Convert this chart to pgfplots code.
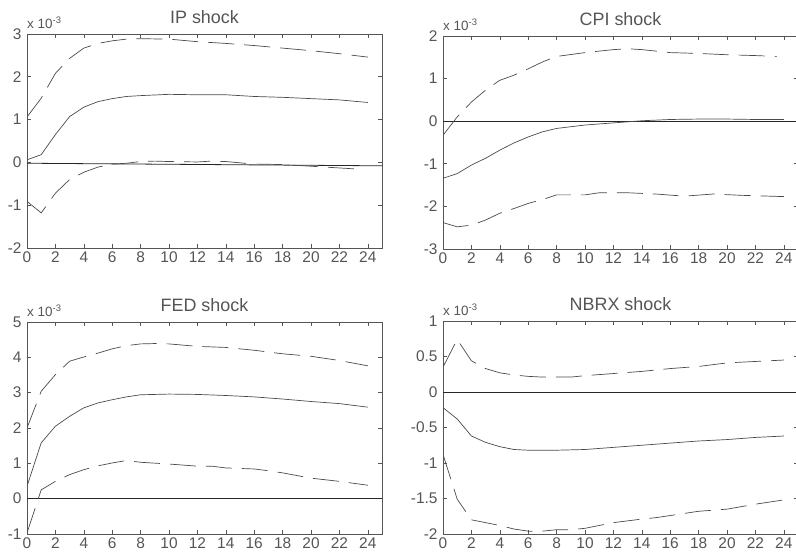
\documentclass[border=0pt]{standalone}
\usepackage{fontspec}
\setmainfont{Liberation Sans}
\usepackage{pgfplots}
\pgfplotsset{compat=1.18}

\definecolor{axgray}{HTML}{555555}
\definecolor{lngray}{HTML}{4A4A4A}

\pgfplotsset{
  irf/.style={
    scale only axis, width=355bp,
    xmin=0, xmax=25, xtick={0,2,...,24},
    clip mode=individual,
    tick align=inside, major tick length=4bp,
    axis line style={axgray, line width=0.8pt},
    tick style={axgray, line width=0.6pt},
    ticklabel style={font=\fontsize{15.5}{17}\selectfont, text=axgray},
    yticklabel style={xshift=-2bp},
    xticklabel style={yshift=-0.5bp},
    /pgf/number format/assume math mode=true,
    title style={font=\fontsize{18}{20}\selectfont, text=axgray, yshift=1bp},
    scaled y ticks=false,
  },
  mid/.style={lngray, line width=0.7pt, no marks},
  band/.style={lngray, line width=0.7pt, no marks, dash pattern=on 26bp off 10bp},
  zero/.style={black!85, line width=0.8pt, no marks},
}
\newcommand{\scalelab}{\node[anchor=south west, inner sep=0pt, text=axgray,
  font=\fontsize{13.5}{15}\selectfont] at (rel axis cs:0,1) [yshift=5bp]
  {x 10\textsuperscript{-3}};}

\begin{document}
\begin{tikzpicture}[x=1bp,y=1bp]
\useasboundingbox (0,0) rectangle (796,560);

% IP shock
\begin{axis}[irf, at={(27bp,312bp)}, height=214bp, title={IP shock},
  ymin=-2, ymax=3, ytick={-2,-1,0,1,2,3}, yticklabels={-2,-1,0,1,2,3}]
\addplot[zero] coordinates {(0,-0.02)(25,-0.08)};
\addplot[mid] coordinates {(0,0.06)(1,0.18)(2,0.65)(3,1.07)(4,1.29)(5,1.42)(6,1.49)(7,1.54)(8,1.56)(10,1.59)(12,1.58)(14,1.58)(16,1.54)(18,1.52)(20,1.49)(22,1.46)(24,1.40)};
\addplot[band] coordinates {(0,1.06)(1,1.50)(2,2.08)(3,2.43)(4,2.67)(5,2.78)(6,2.84)(7,2.88)(8,2.89)(10,2.88)(12,2.82)(14,2.78)(16,2.73)(18,2.67)(20,2.61)(22,2.54)(24,2.46)};
\addplot[band] coordinates {(0,-0.91)(1,-1.18)(2,-0.72)(3,-0.40)(4,-0.23)(5,-0.11)(6,-0.04)(7,-0.02)(8,0.02)(9,0.03)(10,0.02)(12,0.01)(13,0.03)(14,0.02)(16,-0.04)(18,-0.05)(20,-0.09)(22,-0.13)(23.5,-0.16)};
\scalelab
\end{axis}

% CPI shock
\begin{axis}[irf, at={(443bp,311bp)}, height=213bp, title={CPI shock},
  ymin=-3, ymax=2, ytick={-3,-2,-1,0,1,2}, yticklabels={-3,-2,-1,0,1,2}]
\addplot[zero] coordinates {(0,0)(25,0)};
\addplot[mid] coordinates {(0,-1.34)(1,-1.23)(2,-1.03)(3,-0.87)(4,-0.68)(5,-0.51)(6,-0.37)(7,-0.25)(8,-0.17)(10,-0.09)(12,-0.04)(14,0.01)(16,0.04)(18,0.05)(20,0.05)(22,0.04)(24,0.04)};
\addplot[band] coordinates {(0,-0.33)(1,0.10)(2,0.45)(3,0.73)(4,0.96)(5,1.08)(6,1.23)(7,1.39)(8,1.52)(10,1.61)(12,1.68)(13,1.70)(14,1.68)(16,1.61)(18,1.59)(20,1.56)(22,1.54)(23.5,1.52)};
\addplot[band] coordinates {(0,-2.38)(1,-2.48)(2,-2.44)(3,-2.32)(4,-2.16)(5,-2.05)(6,-1.93)(7,-1.84)(8,-1.73)(10,-1.73)(11,-1.68)(13,-1.68)(15,-1.71)(17,-1.76)(19,-1.71)(21,-1.74)(24,-1.77)};
\scalelab
\end{axis}

% FED shock
\begin{axis}[irf, at={(27bp,26bp)}, height=212bp, title={FED shock},
  ymin=-1, ymax=5, ytick={-1,0,1,2,3,4,5}, yticklabels={-1,0,1,2,3,4,5}]
\addplot[zero] coordinates {(0,0)(25,0)};
\addplot[mid] coordinates {(0,0.35)(1,1.58)(2,2.05)(3,2.33)(4,2.57)(5,2.71)(6,2.80)(7,2.88)(8,2.94)(10,2.96)(12,2.95)(14,2.92)(16,2.88)(18,2.82)(20,2.75)(22,2.69)(24,2.59)};
\addplot[band] coordinates {(0,2.00)(1,3.04)(2,3.51)(3,3.89)(4,4.01)(5,4.12)(6,4.24)(7,4.33)(8,4.38)(9,4.39)(10,4.38)(12,4.31)(14,4.28)(16,4.20)(18,4.10)(20,4.03)(22,3.91)(24,3.76)};
\addplot[band] coordinates {(0,-0.97)(1,0.25)(2,0.49)(3,0.68)(4,0.82)(5,0.93)(6,1.01)(7,1.08)(8,1.03)(10,0.98)(12,0.92)(13,0.92)(14,0.87)(16,0.84)(17,0.79)(18,0.73)(20,0.58)(22,0.49)(24,0.38)};
\scalelab
\end{axis}

% NBRX shock
\begin{axis}[irf, at={(443bp,26bp)}, height=213bp, title={NBRX shock},
  ymin=-2, ymax=1, ytick={-2,-1.5,-1,-0.5,0,0.5,1},
  yticklabels={-2,-1.5,-1,-0.5,0,0.5,1}]
\addplot[zero] coordinates {(0,0)(25,0)};
\addplot[mid] coordinates {(0,-0.22)(1,-0.38)(2,-0.62)(3,-0.71)(4,-0.77)(5,-0.81)(6,-0.82)(8,-0.82)(10,-0.81)(12,-0.78)(14,-0.75)(16,-0.72)(18,-0.69)(20,-0.67)(22,-0.64)(24,-0.62)};
\addplot[band] coordinates {(0,0.35)(1,0.74)(2,0.44)(3,0.33)(4,0.27)(5,0.24)(6,0.22)(7,0.21)(8,0.21)(9,0.21)(10,0.23)(12,0.26)(14,0.29)(16,0.33)(18,0.36)(20,0.41)(22,0.43)(24,0.45)};
\addplot[band] coordinates {(0,-0.88)(1,-1.51)(2,-1.80)(3,-1.84)(4,-1.88)(5,-1.93)(6,-1.96)(7,-1.96)(8,-1.94)(9,-1.94)(10,-1.92)(12,-1.84)(14,-1.79)(15,-1.77)(16,-1.74)(18,-1.68)(20,-1.65)(22,-1.58)(24,-1.52)};
\scalelab
\end{axis}
\end{tikzpicture}
\end{document}
